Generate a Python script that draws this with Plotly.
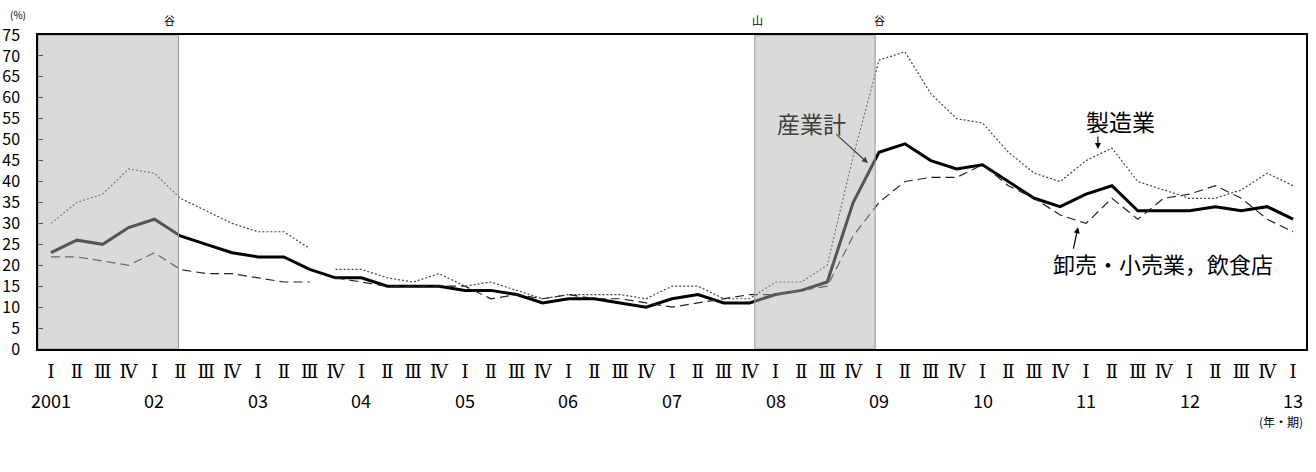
import plotly.graph_objects as go

# ---- data -------------------------------------------------------------
years = ["2001", "02", "03", "04", "05", "06", "07", "08", "09", "10", "11", "12", "13"]
roman = ["Ⅰ", "Ⅱ", "Ⅲ", "Ⅳ"]
quarter_labels = [roman[i % 4] for i in range(49)]

total = [23, 26, 25, 29, 31, 27, 25, 23, 22, 22, 19,
         17, 17, 15, 15, 15, 14, 14, 13, 11, 12, 12, 11, 10, 12, 13, 11, 11,
         13, 14, 16, 35, 47, 49, 45, 43, 44, 40, 36, 34, 37, 39, 33, 33, 33, 34, 33, 34, 31]
manufacturing = [30, 35, 37, 43, 42, 36, 33, 30, 28, 28, 24,
                 19, 19, 17, 16, 18, 15, 16, 14, 12, 13, 13, 13, 12, 15, 15, 12, 12,
                 16, 16, 20, 46, 69, 71, 61, 55, 54, 47, 42, 40, 45, 48, 40, 38, 36, 36, 38, 42, 39]
wholesale = [22, 22, 21, 20, 23, 19, 18, 18, 17, 16, 16,
             17, 16, 15, 15, 15, 15, 12, 13, 12, 13, 12, 12, 11, 10, 11, 12, 13,
             13, 14, 15, 27, 35, 40, 41, 41, 44, 39, 36, 32, 30, 36, 31, 36, 37, 39, 36, 31, 28]
break_index = 11  # series break (2003 III -> 2003 IV) for the sub-industry series

# recession shading (quarter index positions) and markers
shade_start = [-0.5, 27.2]
shade_end = [4.93, 31.85]
cycle_marks = [(4.6, "谷"), (27.3, "山"), (32.0, "谷")]

x = list(range(len(total)))

fig = go.Figure()

fig.add_trace(go.Scatter(x=x, y=total, mode="lines",
                         line=dict(color="black", width=3), showlegend=False))
for seg in (slice(0, break_index), slice(break_index, None)):
    fig.add_trace(go.Scatter(x=x[seg], y=manufacturing[seg], mode="lines",
                             line=dict(color="#444444", width=1.2, dash="2px,2px"),
                             showlegend=False))
    fig.add_trace(go.Scatter(x=x[seg], y=wholesale[seg], mode="lines",
                             line=dict(color="#222222", width=1.2, dash="9px,5px"),
                             showlegend=False))

shapes = []
for s, e in zip(shade_start, shade_end):
    shapes.append(dict(type="rect", xref="x", yref="y", x0=s, x1=e, y0=0, y1=75,
                       fillcolor="rgba(176,180,176,0.48)",
                       line=dict(color="rgba(150,150,150,1)", width=1),
                       layer="above"))

FONT = "Noto Sans CJK JP"
ann = []
for pos, txt in cycle_marks:
    ann.append(dict(x=pos, y=1.047, xref="x", yref="paper", text=txt, showarrow=False,
                    font=dict(size=11, color="black", family=FONT), yanchor="middle"))
for i, yr in enumerate(years):
    ann.append(dict(x=i * 4, y=-0.162, xref="x", yref="paper", text=yr, showarrow=False,
                    font=dict(size=18, color="black", family=FONT), yanchor="middle"))
ann.append(dict(x=-0.016, y=1.064, xref="paper", yref="paper", text="(%)", showarrow=False,
                font=dict(size=10, color="black", family=FONT), xanchor="center",
                yanchor="middle"))
ann.append(dict(x=0.98, y=-0.232, xref="paper", yref="paper", text="(年・期)", showarrow=False,
                font=dict(size=12, color="black", family=FONT), xanchor="center",
                yanchor="middle"))

# labels
ann.append(dict(x=29.4, y=54, xref="x", yref="y", text="産業計", showarrow=False,
                font=dict(size=23, color="#404040", family=FONT)))
ann.append(dict(x=41.35, y=54.5, xref="x", yref="y", text="製造業", showarrow=False,
                font=dict(size=23, color="black", family=FONT)))
ann.append(dict(x=42.98, y=20.5, xref="x", yref="y", text="卸売・小売業，飲食店", showarrow=False,
                font=dict(size=22, color="black", family=FONT)))
# arrows
for (hx, hy, tx, ty, col) in [(31.57, 44.4, 30.29, 51.6, "#404040"),
                              (40.46, 47.8, 40.46, 51.1, "black"),
                              (39.69, 29.1, 39.5, 23.6, "black")]:
    ann.append(dict(x=hx, y=hy, ax=tx, ay=ty, xref="x", yref="y", axref="x", ayref="y",
                    text="", showarrow=True, arrowhead=2, arrowsize=1, arrowwidth=1.2,
                    arrowcolor=col, standoff=0, startstandoff=0))

fig.update_layout(
    width=1316, height=472,
    margin=dict(l=38, r=10, t=35, b=123),
    plot_bgcolor="white", paper_bgcolor="white",
    shapes=shapes, annotations=ann,
    font=dict(family=FONT, color="black"),
)
fig.update_xaxes(range=[-0.5, 48.5], tickmode="array", tickvals=x, ticktext=quarter_labels,
                 showgrid=False, zeroline=False, showline=True, linecolor="black",
                 linewidth=1.5, mirror=True, ticks="",
                 tickfont=dict(size=18, family="DejaVu Serif, Liberation Serif, " + FONT),
                 ticklabelstandoff=6, automargin=False)
fig.update_yaxes(range=[0, 75], dtick=5, tick0=0, showgrid=False, zeroline=False,
                 showline=True, linecolor="black", linewidth=1.5, mirror=True,
                 ticks="inside", ticklen=5, tickcolor="black",
                 tickfont=dict(size=16, family=FONT), ticklabelstandoff=13, automargin=False)

# remove the default 8px page margin so the figure fills the window exactly
fig.write_html("out.html", config={"displayModeBar": False},
               post_script="document.body.style.margin='0';")
